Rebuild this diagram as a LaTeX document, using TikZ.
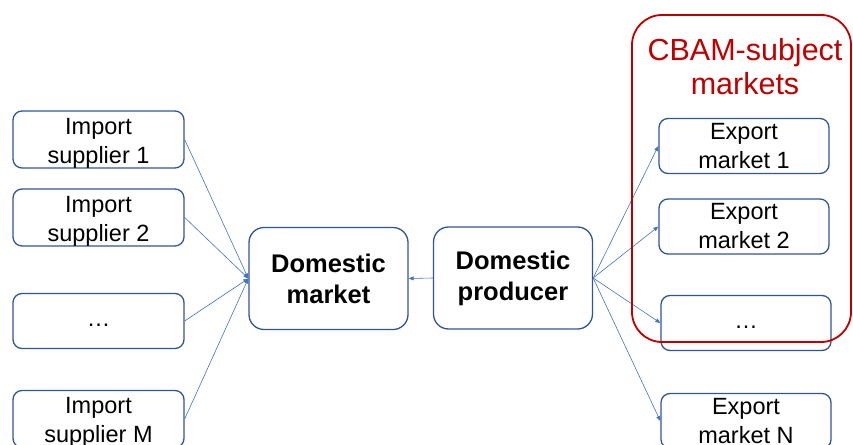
\documentclass[tikz,border=0pt]{standalone}
\usepackage{fontspec}
\setmainfont{Liberation Sans}
\usepackage{xcolor}
\usepackage{tikz}
\usetikzlibrary{arrows.meta, positioning}

\definecolor{boxblue}{HTML}{2F5597}
\definecolor{arrowblue}{HTML}{4472C4}
\definecolor{cbamred}{HTML}{C00000}

\begin{document}
\begin{tikzpicture}[
  x=1pt, y=-1pt,
  box/.style={draw=boxblue, line width=1.3pt, rounded corners=9pt, align=center, inner sep=0pt, font=\fontsize{23.5}{29}\selectfont, minimum width=171pt, minimum height=55pt},
  imp/.style={box, text height=52pt, text depth=5pt},
  dots/.style={box, text height=20pt, text depth=9pt},
  core/.style={box, font=\bfseries\fontsize{25.5}{31}\selectfont, minimum width=159pt, minimum height=102pt, rounded corners=15pt},
  group/.style={draw=cbamred, line width=1.8pt, rounded corners=30pt, inner sep=0pt},
  arrow/.style={-{Triangle[length=5pt, width=4pt]}, line width=0.6pt, draw=arrowblue}
]
  \useasboundingbox (0,0) rectangle (853,444);

  % Import suppliers
  \node[imp] (imp1) at (98.5,139.5) {Import\\supplier 1};
  \node[imp] (imp2) at (98.5,217.5) {Import\\supplier 2};
  \node[dots] (impdots) at (98.5,321) {…};
  \node[imp] (impM) at (98.5,419) {Import\\supplier M};

  % Domestic side
  \node[core] (market) at (328.5,278.5) {Domestic\\market};
  \node[core] (producer) at (513,278) {Domestic\\producer};

  % Export markets
  \node[box, minimum width=170pt] (exp1) at (744,146) {Export\\market 1};
  \node[box, minimum width=170pt] (exp2) at (744,226.5) {Export\\market 2};
  \node[dots, minimum width=170pt] (expdots) at (746,323) {…};
  \node[box, minimum width=170pt] (expN) at (746,421) {Export\\market N};

  % Flows
  \draw[arrow] (imp1.east) -- (market.west);
  \draw[arrow] (imp2.east) -- (market.west);
  \draw[arrow] (impdots.east) -- (market.west);
  \draw[arrow] (impM.east) -- (market.west);
  \draw[arrow] (producer.west) -- (market.east);
  \draw[arrow] (producer.east) -- (exp1.west);
  \draw[arrow] (producer.east) -- (exp2.west);
  \draw[arrow] (producer.east) -- (expdots.west);
  \draw[arrow] (producer.east) -- (expN.west);

  % CBAM group
  \node[group, minimum width=219pt, minimum height=327pt] (cbam) at (741.5,178.5) {};
  \node[text=cbamred, align=center, inner sep=0pt, font=\fontsize{30.5}{34}\selectfont] (cbamlabel) at (745,67) {CBAM-subject\\markets};

\end{tikzpicture}
\end{document}
